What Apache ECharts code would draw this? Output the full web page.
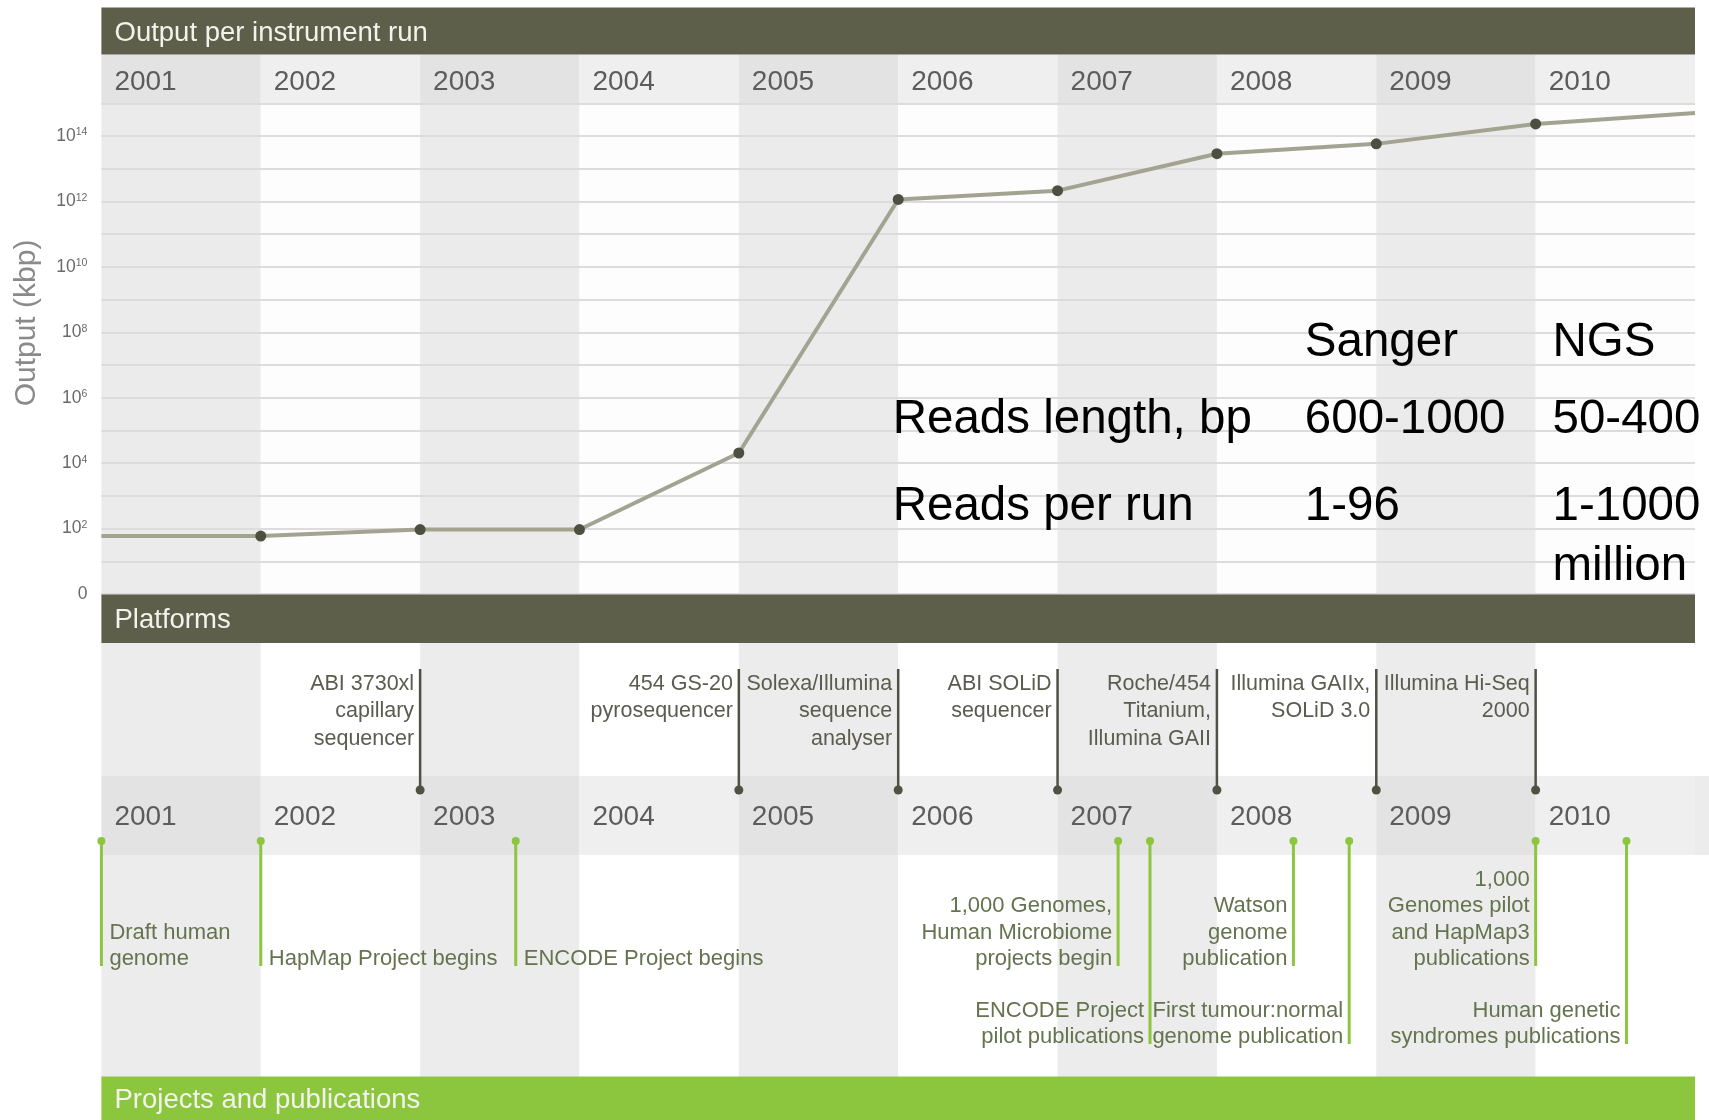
<!DOCTYPE html>
<html>
<head>
<meta charset="utf-8">
<title>Output per instrument run</title>
<script src="https://cdn.jsdelivr.net/npm/echarts@6/dist/echarts.min.js"></script>
<style>
    html, body { margin: 0; padding: 0; background: #fff; }
    #chart { width: 1709px; height: 1120px; }
</style>
</head>
<body>
<div id="chart"></div>
<script>
// column boundaries, one column per year
const years = [2001, 2002, 2003, 2004, 2005, 2006, 2007, 2008, 2009, 2010, 2011];
// output per instrument run as log10(kbp), read at each boundary
const outputExp = [1.77, 1.77, 1.97, 1.97, 4.31, 12.06, 12.33, 13.46, 13.76, 14.37, 14.70];

// platforms (launch position on the time axis)
const platformDates = [2003, 2005, 2006, 2007, 2008, 2009, 2010];
const platformNames = [
    'ABI 3730xl\ncapillary\nsequencer',
    '454 GS-20\npyrosequencer',
    'Solexa/Illumina\nsequence\nanalyser',
    'ABI SOLiD\nsequencer',
    'Roche/454\nTitanium,\nIllumina GAII',
    'Illumina GAIIx,\nSOLiD 3.0',
    'Illumina Hi-Seq\n2000'
];

// projects and publications
const projectDates = [2001.0, 2002.0, 2003.6, 2007.38, 2007.58, 2008.48, 2008.83, 2010.0, 2010.57];
const projectNames = [
    'Draft human\ngenome',
    'HapMap Project begins',
    'ENCODE Project begins',
    '1,000 Genomes,\nHuman Microbiome\nprojects begin',
    'ENCODE Project\npilot publications',
    'Watson\ngenome\npublication',
    'First tumour:normal\ngenome publication',
    '1,000\nGenomes pilot\nand HapMap3\npublications',
    'Human genetic\nsyndromes publications'
];
const projectRows = [1, 1, 1, 1, 2, 1, 2, 1, 2];

// Sanger vs NGS table
const tableCols = ['', 'Sanger', 'NGS'];
const tableRows = [
    ['Reads length, bp', '600-1000', '50-400'],
    ['Reads per run', '1-96', '1-1000\nmillion']
];

const FONT = '"Liberation Sans", Arial, Helvetica, sans-serif';
const W = 1709, L = 101.4, R = 1695;
const DARK = '#5e5f4b';
const GREEN = '#8cc63e';

const chart = echarts.init(document.getElementById('chart'));

// one grid per horizontal band so every band gets its own column shading
const bands = [
    { top: 54.5, height: 48.8, colors: ['#e3e3e3', '#efefef'] },   // years (top)
    { top: 103.3, height: 490.7, colors: ['#ebebeb', '#fdfdfd'] }, // plot
    { top: 643, height: 133, colors: ['#ececec', '#ffffff'] },     // platforms
    { top: 776, height: 79, colors: ['#e3e3e3', '#efefef'] },      // years (bottom)
    { top: 855, height: 222, colors: ['#ececec', '#ffffff'] },     // projects
    { top: 643, height: 434, colors: null }                        // overlay for events
];

const grids = bands.map(b => ({
    left: L, right: W - R, top: b.top, height: b.height, outerBoundsMode: 'none'
}));

const yearLabel = (margin) => ({
    show: true,
    inside: true,
    margin: margin,
    align: 'left',
    verticalAlign: 'middle',
    padding: [0, 0, 0, 13],
    fontFamily: FONT,
    fontSize: 28,
    color: '#5c5c5c',
    formatter: v => (v < 2011 ? String(v) : '')
});

const xAxes = bands.map((b, i) => ({
    type: 'value',
    gridIndex: i,
    min: 2001,
    max: 2011,
    interval: 1,
    z: 0,
    axisLine: { show: false },
    axisTick: { show: false },
    splitLine: { show: false },
    axisLabel: i === 0 ? yearLabel(21) : i === 3 ? yearLabel(37.5) : { show: false },
    splitArea: b.colors ? { show: true, areaStyle: { color: b.colors } } : { show: false }
}));

const yAxes = bands.map((b, i) => {
    if (i === 1) {
        return {
            type: 'value',
            gridIndex: 1,
            min: 0,
            max: 15,
            interval: 1,
            z: 1,
            axisLine: { show: false },
            axisTick: { show: false },
            splitLine: { show: true, lineStyle: { color: '#dcdcdc', width: 2 } },
            axisLabel: {
                margin: 14,
                formatter: v => {
                    if (v === 0) return '{b|0}';
                    if (v % 2 === 0 && v < 15) return '{b|10}{s|' + v + '}';
                    return '';
                },
                rich: {
                    b: { fontFamily: FONT, fontSize: 17.5, color: '#6a6a6a' },
                    s: { fontFamily: FONT, fontSize: 10.5, color: '#6a6a6a', verticalAlign: 'top' }
                }
            }
        };
    }
    return {
        type: 'value', gridIndex: i, min: 0, max: 1, show: false
    };
});

const platformSeries = {
    type: 'custom',
    xAxisIndex: 5,
    yAxisIndex: 5,
    clip: false,
    z: 5,
    data: platformDates.map((d, i) => [d, i]),
    renderItem: (params, api) => {
        const x = api.coord([api.value(0), 0])[0];
        return {
            type: 'group',
            children: [
                { type: 'line', shape: { x1: x, y1: 669, x2: x, y2: 790 },
                  style: { stroke: '#4f5142', lineWidth: 2.5 } },
                { type: 'circle', shape: { cx: x, cy: 790, r: 4.5 },
                  style: { fill: '#4f5142' } },
                { type: 'text',
                  style: {
                      text: platformNames[params.dataIndex],
                      x: x - 6, y: 670,
                      align: 'right', verticalAlign: 'top',
                      fontFamily: FONT, fontSize: 21.5, lineHeight: 27.5,
                      fill: '#5b5b50'
                  } }
            ]
        };
    }
};

const projectSeries = {
    type: 'custom',
    xAxisIndex: 5,
    yAxisIndex: 5,
    clip: false,
    z: 5,
    data: projectDates.map((d, i) => [d, projectRows[i]]),
    renderItem: (params, api) => {
        const i = params.dataIndex;
        const x = api.coord([api.value(0), 0])[0];
        const row = api.value(1);
        const yEnd = row === 1 ? 966 : 1044;
        const textBottom = row === 1 ? 972.5 : 1050.5;
        const onRight = i < 3;
        return {
            type: 'group',
            children: [
                { type: 'line', shape: { x1: x, y1: 841, x2: x, y2: yEnd },
                  style: { stroke: GREEN, lineWidth: 3 } },
                { type: 'circle', shape: { cx: x, cy: 841, r: 4 },
                  style: { fill: GREEN } },
                { type: 'text',
                  style: {
                      text: projectNames[i],
                      x: onRight ? x + 8 : x - 6, y: textBottom,
                      align: onRight ? 'left' : 'right', verticalAlign: 'bottom',
                      fontFamily: FONT, fontSize: 22, lineHeight: 26.5,
                      fill: '#65734f'
                  } }
            ]
        };
    }
};

const header = (top, height, color, label) => ([
    { type: 'rect', z: 10, shape: { x: L, y: top, width: R - L, height: height },
      style: { fill: color } },
    { type: 'text', z: 11, x: 114.5, y: top + height / 2 + 2,
      style: { text: label, fill: '#f3f3ec', fontFamily: FONT, fontSize: 27.5,
               align: 'left', verticalAlign: 'middle' } }
]);

const tableX = [892.7, 1304.8, 1552.5];
const tableY = [313, 390, 477];
const tableText = [];
tableCols.forEach((t, c) => {
    if (t) tableText.push([t, tableX[c], tableY[0]]);
});
tableRows.forEach((row, r) => {
    row.forEach((t, c) => tableText.push([t, tableX[c], tableY[r + 1]]));
});

const graphics = [
    // band continues past the right edge
    { type: 'rect', z: -1, shape: { x: R, y: 776, width: W - R, height: 79 },
      style: { fill: '#ececec' } },
    ...header(7.5, 47, DARK, 'Output per instrument run'),
    ...header(594.5, 48.5, DARK, 'Platforms'),
    ...header(1076.5, 43.5, GREEN, 'Projects and publications'),
    { type: 'text', z: 11, x: 27, y: 323, rotation: Math.PI / 2,
      style: { text: 'Output (kbp)', fill: '#8a8a8a', fontFamily: FONT, fontSize: 30,
               align: 'center', verticalAlign: 'middle' } },
    ...tableText.map(([t, x, y]) => ({
        type: 'text', z: 12, x: x, y: y,
        style: { text: t, fill: '#000', fontFamily: FONT, fontSize: 47.5, lineHeight: 60,
                 align: 'left', verticalAlign: 'top' }
    }))
];

chart.setOption({
    animation: false,
    backgroundColor: '#ffffff',
    grid: grids,
    xAxis: xAxes,
    yAxis: yAxes,
    graphic: graphics,
    series: [
        {
            type: 'line',
            xAxisIndex: 1,
            yAxisIndex: 1,
            z: 3,
            data: years.map((y, i) => [y, outputExp[i]]),
            symbol: 'circle',
            symbolSize: (val, p) => (p.dataIndex > 0 && p.dataIndex < years.length - 1 ? 11 : 0),
            lineStyle: { color: '#a3a392', width: 4 },
            itemStyle: { color: '#4d5041', borderWidth: 0 }
        },
        platformSeries,
        projectSeries
    ]
});
</script>
</body>
</html>
